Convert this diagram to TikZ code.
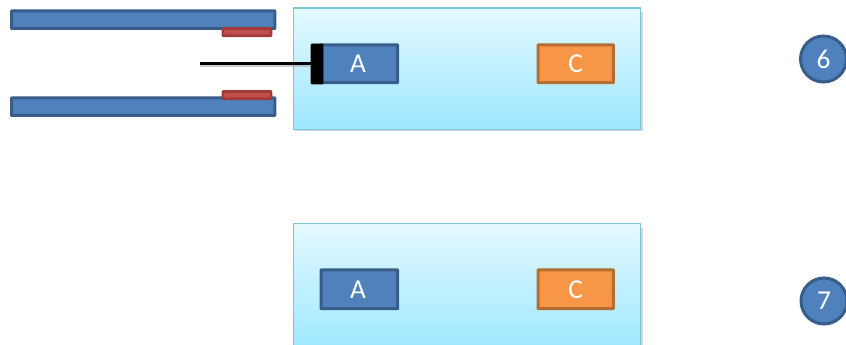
\documentclass[tikz,border=0pt]{standalone}
\usepackage{fontspec}
\setmainfont{Carlito}
\definecolor{bluefill}{HTML}{4F81BD}
\definecolor{blueline}{HTML}{385D8A}
\definecolor{redfill}{HTML}{C0504D}
\definecolor{redline}{HTML}{A23B38}
\definecolor{orangefill}{HTML}{F79646}
\definecolor{orangeline}{HTML}{B66D31}
\definecolor{paneltop}{HTML}{E3F9FF}
\definecolor{panelbot}{HTML}{9EE8FF}
\definecolor{panelline}{HTML}{7CC5D8}
\tikzset{
  x=0.75pt,y=-0.75pt,
  box/.style={rectangle,inner sep=0pt,outer sep=0pt,anchor=north west,line width=2.25pt,rounded corners=0.3pt},
  bluebox/.style={box,fill=bluefill,draw=blueline,text=white,font=\fontsize{20.5}{20.5}\selectfont},
  orangebox/.style={box,fill=orangefill,draw=orangeline,text=white,font=\fontsize{20.5}{20.5}\selectfont},
  bar/.style={box,fill=bluefill,draw=blueline,minimum width=197.5pt,minimum height=13pt},
  pad/.style={box,fill=redfill,draw=redline,line width=2pt,minimum width=36pt,minimum height=5.4pt},
  panel/.style={box,top color=paneltop,bottom color=panelbot,draw=panelline,line width=0.9pt,rounded corners=0pt,minimum width=260.5pt},
  panelshadow/.style={fill=black!45,opacity=0.35},
  badge/.style={circle,fill=bluefill,draw=blueline,line width=2.25pt,inner sep=0pt,minimum size=34.5pt,text=white,font=\fontsize{20.5}{20.5}\selectfont},
  rod/.style={line width=2.7pt,black},
  rodshadow/.style={line width=2.7pt,black!40,opacity=0.5},
  stopbar/.style={box,fill=black,draw=black,line width=0.5pt,rounded corners=0.6pt,minimum width=9pt,minimum height=30pt}
}
\begin{document}
\begin{tikzpicture}
\useasboundingbox (0,0) rectangle (846,345);
\clip (0,0) rectangle (846,345);
\node[bar] (bartop) at (11.5,11) {};
\node[bar] (barbot) at (11.5,98) {};
\node[pad] (padtop) at (223,28.5) {};
\node[pad] (padbot) at (223,91.5) {};
\fill[panelshadow] (294.5,12) rectangle (642.5,131.5);
\fill[panelshadow] (294.5,228) rectangle (642.5,346);
\node[panel,minimum height=91pt] (panelA) at (293.5,8) {};
\node[panel,minimum height=95pt] (panelB) at (293.5,223.5) {};
\node[bluebox,minimum width=57.5pt,minimum height=28.2pt] (a1) at (321,45) {\kern-2pt A};
\node[orangebox,minimum width=56.5pt,minimum height=28.2pt] (c1) at (538,45) {C};
\node[bluebox,minimum width=57.5pt,minimum height=29pt] (a2) at (321,270) {\kern-2pt A};
\node[orangebox,minimum width=56.5pt,minimum height=29pt] (c2) at (538,270) {C};
\node[stopbar] (stopper) at (311,44) {};
\coordinate (rodend) at (200,63.5);
\draw[rodshadow] ([yshift=-1pt]rodend) -- ([yshift=-1pt]rodend -| stopper.west);
\draw[rod] (rodend) -- (rodend -| stopper.west);
\node[badge] (six) at (823.5,59) {6};
\node[badge] (seven) at (824,301) {7};
\end{tikzpicture}
\end{document}
